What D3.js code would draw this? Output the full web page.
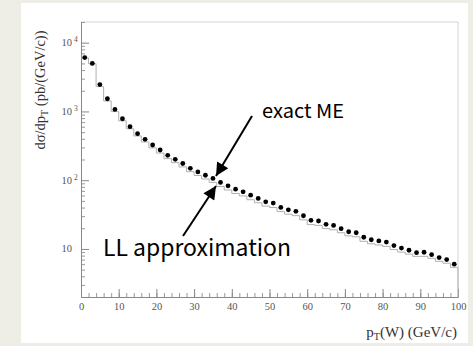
<!DOCTYPE html>
<html>
<head>
<meta charset="utf-8">
<script src="https://cdn.jsdelivr.net/npm/d3@7"></script>
<style>
  body { margin: 0; background: #eeeee6; }
  svg { display: block; }
</style>
</head>
<body>
<div id="chart"></div>
<script>
// pT bins of 2 GeV/c, 0..100
const binEdges = d3.range(0, 100, 2);
const binCenters = d3.range(1, 100, 2);

// exact ME (dots), pb/(GeV/c)
const exactME = [6070, 5000, 2460, 1530, 1070, 783, 600, 475, 393, 325,
  275, 230, 201, 175, 149, 132, 118, 106, 92.7, 82.7,
  74.1, 67.7, 60.6, 54.3, 48.5, 46.4, 40.2, 37.1, 35.2, 30.4,
  26.1, 25.5, 22.8, 22.0, 19.7, 17.8, 17.2, 14.8, 13.6, 13.1,
  12.6, 11.2, 10.3, 9.57, 8.83, 8.95, 8.26, 7.48, 7.00, 6.00];

// LL approximation (grey histogram)
const llApprox = [6000, 4950, 2300, 1420, 995, 730, 560, 440, 360, 295,
  248, 206, 180, 156, 133, 117, 104, 93, 81, 72,
  64, 59, 52, 47, 42, 40, 35, 32, 30.5, 26.5,
  22.6, 22.0, 19.8, 19.0, 17.2, 15.5, 15.0, 12.9, 11.9, 11.4,
  10.9, 9.8, 9.0, 8.4, 7.8, 7.8, 7.3, 6.6, 6.2, 5.4];

const xTicks = [0, 10, 20, 30, 40, 50, 60, 70, 80, 90, 100];
const yDecades = [1, 2, 3, 4];

const W = 473, H = 346;
const svg = d3.select("#chart").append("svg")
  .attr("width", W).attr("height", H);

svg.append("rect").attr("x", 0).attr("y", 0).attr("width", W).attr("height", H)
  .attr("fill", "#eeeee6");
svg.append("rect").attr("x", 21).attr("y", 3).attr("width", 447).attr("height", 340)
  .attr("fill", "#ffffff");

const x = d3.scaleLinear().domain([0, 100]).range([81, 458]);
const y = d3.scaleLog().domain([2, 20000]).range([297, 22]);

const serif = "'Liberation Serif', 'Times New Roman', serif";

// frame top / right
svg.append("path")
  .attr("d", `M${x(0)},${y(20000)}H${x(100)}V${y(2)}`)
  .attr("fill", "none").attr("stroke", "#d4d4d4").attr("stroke-width", 1);

// minor y ticks
const yMinor = [];
for (let e = 0; e <= 4; e++) {
  for (let m = 2; m <= 9; m++) {
    const v = m * Math.pow(10, e);
    if (v >= 2 && v <= 20000) yMinor.push(v);
  }
}
svg.append("g")
  .attr("transform", `translate(${x(0)},0)`)
  .call(d3.axisLeft(y).tickValues(yMinor).tickSize(-4).tickSizeOuter(0).tickFormat(""))
  .call(g => g.selectAll("line,path").attr("stroke", "#999"));
svg.append("g")
  .attr("transform", `translate(${x(0)},0)`)
  .call(d3.axisLeft(y).tickValues(yDecades.map(e => Math.pow(10, e))).tickSize(-8).tickSizeOuter(0).tickFormat(""))
  .call(g => g.selectAll("line,path").attr("stroke", "#888"));

// y tick labels 10, 10^2 ...
const yl = svg.append("g").attr("font-family", serif).attr("fill", "#555");
yl.selectAll("text.base").data(yDecades).join("text")
  .attr("class", "base")
  .attr("x", 72).attr("y", d => y(Math.pow(10, d)) + 3.5)
  .attr("text-anchor", "end").attr("font-size", 10.5)
  .text("10");
yl.selectAll("text.exp").data(yDecades.filter(d => d > 1)).join("text")
  .attr("class", "exp")
  .attr("x", 74).attr("y", d => y(Math.pow(10, d)) - 0.5)
  .attr("font-size", 7.5)
  .text(d => d);

// x axis
const xMinor = d3.range(0, 101, 2);
svg.append("g")
  .attr("transform", `translate(0,${y(2)})`)
  .call(d3.axisBottom(x).tickValues(xMinor).tickSize(-4).tickSizeOuter(0).tickFormat(""))
  .call(g => g.selectAll("line,path").attr("stroke", "#999"));
svg.append("g")
  .attr("transform", `translate(0,${y(2)})`)
  .call(d3.axisBottom(x).tickValues(xTicks).tickSize(-8).tickSizeOuter(0).tickPadding(6))
  .call(g => g.selectAll("line,path").attr("stroke", "#888"))
  .call(g => g.selectAll("text").attr("font-family", serif).attr("font-size", 10.5).attr("fill", "#555"));

// LL histogram
const stepData = binEdges.map((e, i) => [e, llApprox[i]]);
stepData.push([100, llApprox[llApprox.length - 1]]);
svg.append("path")
  .datum(stepData)
  .attr("fill", "none").attr("stroke", "#b0b0b0").attr("stroke-width", 1)
  .attr("d", d3.line().x(d => x(d[0])).y(d => y(d[1])).curve(d3.curveStepAfter));
svg.append("line")
  .attr("x1", x(100)).attr("x2", x(100))
  .attr("y1", y(llApprox[llApprox.length - 1])).attr("y2", y(2))
  .attr("stroke", "#b0b0b0");

// exact ME dots
svg.append("g").selectAll("circle").data(binCenters).join("circle")
  .attr("cx", d => x(d))
  .attr("cy", (d, i) => y(exactME[i]))
  .attr("r", 2.4)
  .attr("fill", "#000");

// axis titles
const yt = svg.append("text")
  .attr("transform", "translate(45,90) rotate(-90)")
  .attr("text-anchor", "middle")
  .attr("font-family", serif).attr("font-size", 14.5).attr("fill", "#333");
yt.append("tspan").text("dσ/dp");
yt.append("tspan").attr("font-size", 10).attr("dy", 3).text("T");
yt.append("tspan").attr("dy", -3).text(" (pb/(GeV/c))");

const xt = svg.append("text")
  .attr("x", 457).attr("y", 337)
  .attr("text-anchor", "end")
  .attr("font-family", serif).attr("font-size", 15).attr("fill", "#333");
xt.append("tspan").text("p");
xt.append("tspan").attr("font-size", 10).attr("dy", 3).text("T");
xt.append("tspan").attr("dy", -3).text("(W) (GeV/c)");

// annotations
const sans = "'Noto Sans CJK JP', 'Noto Sans', sans-serif";
svg.append("defs").append("marker")
  .attr("id", "head").attr("viewBox", "0 0 10 10")
  .attr("refX", 10).attr("refY", 5)
  .attr("markerWidth", 17).attr("markerHeight", 13)
  .attr("markerUnits", "userSpaceOnUse")
  .attr("orient", "auto")
  .append("path").attr("d", "M0,0L10,5L0,10Z").attr("fill", "#000");

svg.append("line")
  .attr("x1", 252).attr("y1", 116).attr("x2", 216).attr("y2", 176)
  .attr("stroke", "#000").attr("stroke-width", 2)
  .attr("marker-end", "url(#head)");
svg.append("line")
  .attr("x1", 183).attr("y1", 236).attr("x2", 216).attr("y2", 186)
  .attr("stroke", "#000").attr("stroke-width", 2)
  .attr("marker-end", "url(#head)");

svg.append("text")
  .attr("x", 262).attr("y", 118)
  .attr("font-family", sans).attr("font-size", 19)
  .attr("textLength", 82).attr("lengthAdjust", "spacingAndGlyphs")
  .text("exact ME");
svg.append("text")
  .attr("x", 103).attr("y", 256)
  .attr("font-family", sans).attr("font-size", 23)
  .attr("textLength", 188).attr("lengthAdjust", "spacingAndGlyphs")
  .text("LL approximation");
</script>
</body>
</html>
